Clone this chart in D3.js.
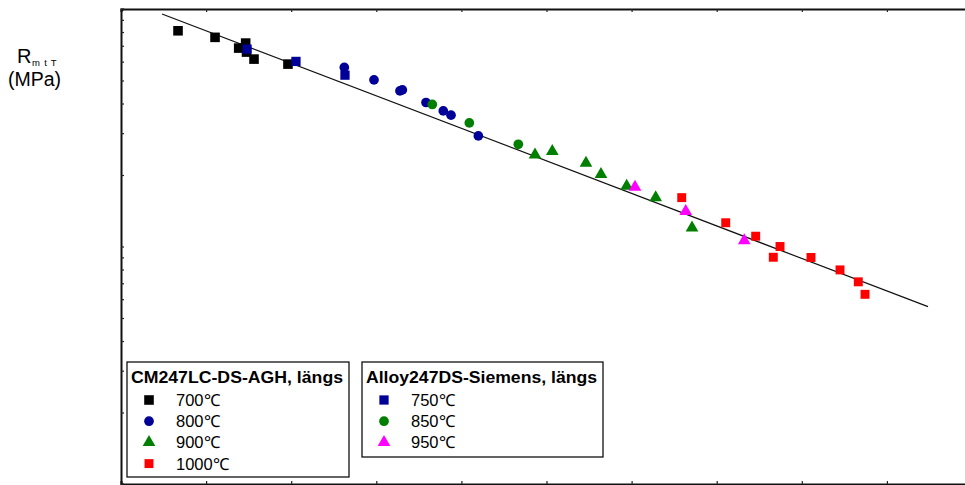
<!DOCTYPE html>
<html>
<head>
<meta charset="utf-8">
<script src="https://cdn.jsdelivr.net/npm/d3@7/dist/d3.min.js"></script>
<style>
  html, body { margin: 0; padding: 0; background: #fff; }
  svg { display: block; font-family: "Liberation Sans", Arial, sans-serif; }
</style>
</head>
<body>
<svg id="chart" width="965" height="485"></svg>
<script>
// Larson-Miller parameter (x1000) vs. creep rupture strength R_mtT (MPa)

// CM247LC-DS-AGH, längs
const lmp700 = [20.67, 21.105, 21.383, 21.465, 21.475, 21.563, 21.962];
const rm700  = [809.6, 759.7, 684.6, 718.6, 658.6, 615.2, 586.1];
const lmp800 = [22.624, 22.973, 23.278, 23.306, 23.584, 23.787, 23.878, 24.199];
const rm800  = [567.5, 503.0, 452.1, 456.5, 404.0, 372.4, 357.2, 292.1];
const lmp900 = [24.865, 25.068, 25.464, 25.64, 25.942, 26.283, 26.71];
const rm900  = [243.3, 251.7, 224.6, 201.3, 179.7, 160.6, 119.9];
const lmp1000 = [26.589, 27.106, 27.458, 27.744, 27.665, 28.108, 28.449, 28.664, 28.743];
const rm1000  = [160.6, 125.9, 110.5, 100.0, 90.1, 89.9, 79.7, 71.0, 62.9];

// Alloy247DS-Siemens, längs
const lmp750 = [21.481, 22.056, 22.632];
const rm750  = [678.0, 601.6, 526.6];
const lmp850 = [23.658, 24.093, 24.669];
const rm850  = [396.3, 331.4, 269.4];
const lmp950 = [26.04, 26.636, 27.324];
const rm950  = [177.9, 140.5, 106.0];

// Master curve
const fitLmp = [20.482, 29.483];
const fitRm  = [952.8, 55.8];

const legendA = { title: "CM247LC-DS-AGH, längs", labels: ["700℃", "800℃", "900℃", "1000℃"] };
const legendB = { title: "Alloy247DS-Siemens, längs", labels: ["750℃", "850℃", "950℃"] };

const svg = d3.select("#chart");

const x = d3.scaleLinear().domain([20, 30]).range([121, 972]);
const y = d3.scaleLog().domain([10, 1000]).range([484, 9]);

const zip = (a, b) => a.map((v, i) => [v, b[i]]);

const series = [
  { pts: zip(lmp700, rm700),   sym: d3.symbolSquare,   size: 92, color: "#000000" },
  { pts: zip(lmp750, rm750),   sym: d3.symbolSquare,   size: 86, color: "#000099" },
  { pts: zip(lmp800, rm800),   sym: d3.symbolCircle,   size: 74, color: "#000099" },
  { pts: zip(lmp850, rm850),   sym: d3.symbolCircle,   size: 74, color: "#007f00" },
  { pts: zip(lmp900, rm900),   sym: d3.symbolTriangle, size: 70, color: "#007f00" },
  { pts: zip(lmp950, rm950),   sym: d3.symbolTriangle, size: 70, color: "#ff00ff" },
  { pts: zip(lmp1000, rm1000), sym: d3.symbolSquare,   size: 80, color: "#ff0000" }
];

// Frame axes with inward ticks, no labels
svg.append("g").attr("transform", `translate(0,${y.range()[1]})`)
  .call(d3.axisBottom(x).ticks(10).tickSize(3).tickFormat(""));
svg.append("g").attr("transform", `translate(0,${y.range()[0]})`)
  .call(d3.axisTop(x).ticks(10).tickSize(3).tickFormat(""));
svg.append("g").attr("transform", `translate(${x.range()[0]},0)`)
  .call(d3.axisRight(y).tickSize(3).tickFormat(""));
svg.selectAll(".domain").attr("stroke", "#111").attr("stroke-width", 2);
svg.selectAll(".tick line").attr("stroke", "#222").attr("stroke-width", 1.2);

// Master curve
svg.append("path")
  .datum(zip(fitLmp, fitRm))
  .attr("fill", "none")
  .attr("stroke", "#111")
  .attr("stroke-width", 1.2)
  .attr("d", d3.line().x(d => x(d[0])).y(d => y(d[1])));

// Data points
series.forEach(s => {
  svg.append("g").selectAll("path")
    .data(s.pts)
    .join("path")
    .attr("transform", d => `translate(${x(d[0])},${y(d[1])})`)
    .attr("d", d3.symbol(s.sym, s.size))
    .attr("fill", s.color);
});

// Y-axis title: R with subscript "m t T", unit on the next line
const yt = svg.append("text").attr("fill", "#000");
yt.append("tspan").attr("x", 17).attr("y", 63).attr("font-size", 20).text("R");
yt.append("tspan").attr("x", 32).attr("y", 65.5).attr("font-size", 9.5).attr("letter-spacing", 0.8).text("m t T");
yt.append("tspan").attr("x", 8).attr("y", 86).attr("font-size", 19.5).attr("letter-spacing", 0).text("(MPa)");

// Legends
function legend(box, spec, rows, titleLen) {
  const g = svg.append("g");
  g.append("rect")
    .attr("x", box.x).attr("y", box.y).attr("width", box.w).attr("height", box.h)
    .attr("fill", "#fff").attr("stroke", "#111").attr("stroke-width", 1.3);
  g.append("text")
    .attr("x", box.x + 4).attr("y", box.y + 21)
    .attr("font-size", 16).attr("font-weight", "bold").attr("fill", "#000")
    .attr("textLength", titleLen).attr("lengthAdjust", "spacingAndGlyphs")
    .text(spec.title);
  rows.forEach((r, i) => {
    const cy = box.y + 38 + i * 21.2;
    g.append("path")
      .attr("transform", `translate(${box.x + 22},${cy})`)
      .attr("d", d3.symbol(r.sym, r.size))
      .attr("fill", r.color);
    g.append("text")
      .attr("x", box.x + 49).attr("y", cy + 6)
      .attr("font-size", 16.5).attr("fill", "#000")
      .text(spec.labels[i]);
  });
}

legend({ x: 127, y: 362, w: 222, h: 115 }, legendA, [series[0], series[2], series[4], series[6]], 212);
legend({ x: 362, y: 362, w: 241, h: 95 }, legendB, [series[1], series[3], series[5]], 231);
</script>
</body>
</html>
